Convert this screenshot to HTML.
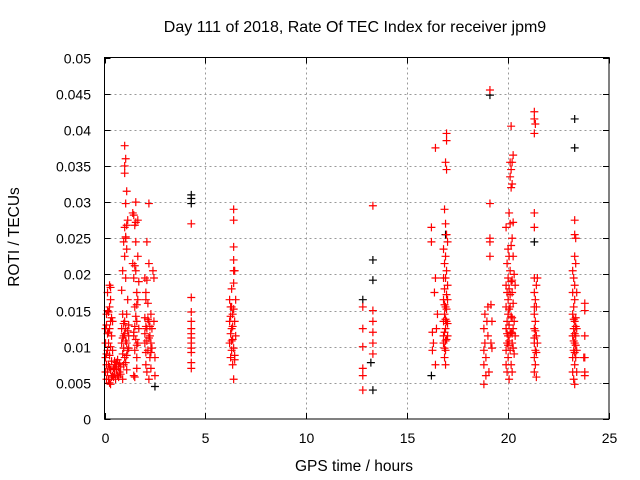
<!DOCTYPE html>
<html><head><meta charset="utf-8"><style>
body{margin:0;background:#fff;}
svg{display:block;font-family:"Liberation Sans",sans-serif;}
</style></head><body>
<svg id="chart" width="640" height="480">
<text x="355" y="32" font-size="16" text-anchor="middle">Day 111 of 2018, Rate Of TEC Index for receiver jpm9</text>
<text x="354" y="471" font-size="15.5" text-anchor="middle">GPS time / hours</text>
<text transform="translate(19,237) rotate(-90)" font-size="15.5" text-anchor="middle">ROTI / TECUs</text>
<g id="grid"></g><g id="ticks"></g><g id="marks"></g>
<rect x="104.5" y="57.5" width="504.5" height="361.5" fill="none" stroke="#000" stroke-width="1"/>
</svg>
<script>
const xTicks=[0,5,10,15,20,25];
const yTicks=[0,0.005,0.01,0.015,0.02,0.025,0.03,0.035,0.04,0.045,0.05];
const yTickLabels=["0","0.005","0.01","0.015","0.02","0.025","0.03","0.035","0.04","0.045","0.05"];
const blackPoints=[[4.3,0.031],[4.3,0.0305],[4.3,0.0298],[13.3,0.022],[13.3,0.0192],[12.8,0.0165],[13.3,0.004],[23.3,0.0415],[23.3,0.0375],[19.1,0.0448],[16.2,0.006],[2.5,0.0045],[21.3,0.0245],[13.2,0.0078],[16.9,0.0255]];
const redPoints=[
[0.05,0.0105],[0.1,0.013],[0.1,0.009],[0.15,0.0065],[0.15,0.015],[0.2,0.0055],[0.2,0.0075],[0.2,0.012],[0.25,0.0185],[0.25,0.005],[0.3,0.0165],[0.3,0.01],[0.3,0.0068],[0.35,0.014],[0.35,0.008],[0.35,0.0115],[0.4,0.006],[0.4,0.0095],[0.15,0.0175],[0.05,0.0085],[0.25,0.0125],[0.1,0.0145],[0.3,0.0048],[0.2,0.0105],[0.4,0.0135],
[0.05,0.0065],[0.1,0.0055],[0.15,0.0095],[0.15,0.0118],[0.2,0.0148],[0.25,0.0088],[0.25,0.0072],[0.3,0.0135],[0.35,0.0058],[0.1,0.0075],[0.05,0.0125],[0.3,0.0182],[0.25,0.0155],
[0.45,0.007],[0.5,0.0062],[0.55,0.0075],[0.6,0.0068],[0.65,0.006],[0.7,0.0072],[0.75,0.0065],[0.5,0.008],[0.6,0.0078],[0.7,0.0058],[0.55,0.0055],[0.65,0.0082],[0.75,0.0077],[0.45,0.0058],[0.8,0.0062],[0.8,0.0072],[0.5,0.0069],
[0.85,0.0105],[0.85,0.0125],[0.9,0.009],[0.9,0.0145],[0.9,0.0205],[0.95,0.0115],[0.95,0.0075],[0.95,0.0245],[1.0,0.0378],[1.0,0.035],[1.0,0.034],[1.0,0.0265],[1.0,0.0085],[1.05,0.036],[1.05,0.0298],[1.05,0.025],[1.05,0.0195],[1.05,0.0125],[1.1,0.0315],[1.1,0.0235],[1.1,0.0105],[1.1,0.0068],[1.15,0.0275],[1.15,0.0165],[1.15,0.0095],[1.2,0.013],[1.2,0.0115],[0.85,0.0178],[0.9,0.0055],[1.0,0.0225],[1.1,0.0145],
[0.9,0.0112],[0.95,0.0098],[1.0,0.0118],[1.0,0.0135],[1.05,0.0108],[1.1,0.0088],[1.15,0.0122],[1.2,0.0098],[0.95,0.0132],[1.05,0.0078],[1.05,0.0252],[1.1,0.0268],
[1.4,0.0285],[1.4,0.0215],[1.45,0.0195],[1.45,0.012],[1.45,0.006],[1.5,0.0268],[1.5,0.0155],[1.5,0.0095],[1.55,0.03],[1.55,0.0245],[1.55,0.0205],[1.55,0.011],[1.6,0.0175],[1.6,0.0135],[1.6,0.0085],[1.6,0.007],[1.65,0.0225],[1.65,0.0165],[1.65,0.0105],[1.7,0.019],[1.7,0.0125],[1.5,0.0058],[1.65,0.0275],
[1.45,0.0115],[1.5,0.0128],[1.55,0.0142],[1.6,0.0102],[1.5,0.0212],[1.45,0.0282],[1.55,0.0272],[1.6,0.0158],
[2.0,0.0195],[2.0,0.014],[2.0,0.0105],[2.05,0.0175],[2.05,0.0075],[2.1,0.0245],[2.1,0.0125],[2.1,0.0065],[2.15,0.016],[2.15,0.0095],[2.2,0.0298],[2.2,0.0215],[2.2,0.0135],[2.2,0.0055],[2.25,0.0115],[2.25,0.0085],[2.3,0.0145],[2.3,0.007],[2.35,0.0125],[2.35,0.0098],[2.4,0.0205],[2.45,0.0195],[2.45,0.0135],[2.5,0.0085],[2.5,0.006],[2.05,0.0165],[2.3,0.0105],
[2.0,0.0118],[2.05,0.0128],[2.1,0.0108],[2.15,0.0138],[2.2,0.0112],[2.25,0.0128],[2.3,0.0092],[2.05,0.0092],[2.1,0.0192],
[4.3,0.0168],[4.3,0.0148],[4.3,0.0135],[4.3,0.0118],[4.3,0.0105],[4.3,0.0098],[4.3,0.0092],[4.3,0.0078],[4.3,0.007],[4.3,0.027],[4.3,0.0112],[4.3,0.0125],
[6.2,0.0165],[6.2,0.0135],[6.2,0.0105],[6.25,0.0155],[6.25,0.0085],[6.3,0.018],[6.3,0.0125],[6.3,0.0095],[6.35,0.0145],[6.35,0.011],[6.35,0.0075],[6.4,0.029],[6.4,0.0275],[6.4,0.0238],[6.4,0.022],[6.4,0.0205],[6.4,0.0188],[6.4,0.0055],[6.45,0.0205],[6.45,0.0135],[6.45,0.0088],[6.5,0.0115],[6.5,0.0165],[6.3,0.0155],
[6.25,0.0118],[6.3,0.0108],[6.35,0.0128],[6.4,0.0098],[6.25,0.0142],[6.4,0.0152],[6.45,0.0082],
[12.8,0.0155],[12.8,0.0125],[12.8,0.01],[12.8,0.007],[12.8,0.006],[12.8,0.004],[13.3,0.0295],[13.3,0.015],[13.3,0.0135],[13.3,0.012],[13.3,0.0105],[13.3,0.009],
[16.2,0.0265],[16.2,0.0245],[16.25,0.012],[16.25,0.0095],[16.3,0.0105],[16.35,0.0175],[16.4,0.0375],[16.4,0.0195],[16.4,0.0075],[16.45,0.0125],[16.5,0.0145],
[16.8,0.0235],[16.8,0.0195],[16.8,0.0165],[16.8,0.0135],[16.8,0.0105],[16.85,0.029],[16.85,0.0215],[16.85,0.018],[16.85,0.0145],[16.85,0.012],[16.85,0.0085],[16.9,0.0355],[16.9,0.027],[16.9,0.0225],[16.9,0.0155],[16.9,0.0125],[16.9,0.0095],[16.9,0.0075],[16.95,0.0395],[16.95,0.0385],[16.95,0.0345],[16.95,0.0255],[16.95,0.0205],[16.95,0.0135],[16.95,0.011],[17.0,0.0185],[17.0,0.0165],[17.0,0.0115],[17.0,0.0245],[16.8,0.0115],
[16.85,0.0098],[16.9,0.0108],[16.95,0.0152],[17.0,0.0132],[16.85,0.0158],[16.9,0.0195],[16.95,0.0172],[16.9,0.0138],
[18.8,0.0125],[18.8,0.0095],[18.8,0.0075],[18.8,0.0048],[18.85,0.0145],[18.85,0.0105],[18.9,0.0085],[18.9,0.006],[18.95,0.0135],[19.0,0.0155],[19.0,0.0115],[19.05,0.0065],[19.1,0.0455],[19.1,0.0298],[19.1,0.025],[19.1,0.0245],[19.1,0.0225],[19.15,0.0158],[19.15,0.0105],[19.2,0.0098],[19.2,0.0135],
[19.9,0.0265],[19.9,0.0185],[19.9,0.0155],[19.9,0.0125],[19.9,0.0095],[19.9,0.0075],[19.95,0.0215],[19.95,0.0175],[19.95,0.0135],[19.95,0.0105],[19.95,0.0065],[20.0,0.0195],[20.0,0.0165],[20.0,0.0145],[20.0,0.0115],[20.0,0.0085],[20.05,0.0285],[20.05,0.0225],[20.05,0.018],[20.05,0.013],[20.05,0.0055],[20.1,0.0355],[20.1,0.0335],[20.1,0.027],[20.1,0.0205],[20.1,0.0155],[20.1,0.0095],[20.15,0.0405],[20.15,0.0345],[20.15,0.032],[20.15,0.024],[20.15,0.019],[20.15,0.012],[20.15,0.0075],[20.2,0.0355],[20.2,0.0325],[20.2,0.025],[20.2,0.0175],[20.2,0.014],[20.2,0.0105],[20.2,0.0065],[20.25,0.0365],[20.25,0.0225],[20.25,0.016],[20.25,0.0125],[20.3,0.02],[20.3,0.0135],[20.3,0.009],[20.35,0.0185],[20.35,0.0115],
[19.95,0.0118],[20.0,0.0102],[20.05,0.0108],[20.1,0.0118],[20.15,0.0142],[20.2,0.0118],[20.25,0.0098],[20.05,0.0152],[20.1,0.0172],[20.2,0.0192],[20.0,0.0235],[20.25,0.0272],
[21.3,0.0425],[21.3,0.0415],[21.3,0.0395],[21.3,0.0285],[21.3,0.0265],[21.3,0.0195],[21.3,0.0175],[21.3,0.0145],[21.3,0.0125],[21.3,0.0105],[21.3,0.0085],[21.3,0.0065],[21.35,0.0408],[21.35,0.0165],[21.35,0.0135],[21.35,0.0095],[21.35,0.0075],[21.4,0.0185],[21.4,0.0155],[21.4,0.0115],[21.4,0.0058],[21.45,0.0195],[21.45,0.0105],
[21.3,0.0112],[21.35,0.0122],[21.4,0.0092],[21.3,0.0155],
[23.2,0.0205],[23.2,0.0175],[23.2,0.0145],[23.2,0.0115],[23.2,0.0085],[23.2,0.0065],[23.25,0.0195],[23.25,0.0155],[23.25,0.0125],[23.25,0.0095],[23.25,0.0055],[23.3,0.0275],[23.3,0.0255],[23.3,0.0225],[23.3,0.0185],[23.3,0.0165],[23.3,0.0135],[23.3,0.0105],[23.3,0.0075],[23.3,0.0048],[23.35,0.025],[23.35,0.0215],[23.35,0.014],[23.35,0.0115],[23.35,0.0085],[23.4,0.0175],[23.4,0.0125],[23.4,0.0095],[23.4,0.0065],[23.8,0.016],[23.8,0.015],[23.8,0.0115],[23.8,0.0085],[23.75,0.0085],[23.8,0.0065],[23.8,0.006],
[23.25,0.0108],[23.3,0.0118],[23.35,0.0128],[23.3,0.0092],[23.25,0.0138],[23.35,0.0102]
];
const X0=104.5,X1=609,Y0=419,Y1=57.5;
function sx(v){return X0+(v-0)/(25-0)*(X1-X0);}
function sy(v){return Y0-(v-0)/(0.05-0)*(Y0-Y1);}
const NS="http://www.w3.org/2000/svg";
const grid=document.getElementById('grid'),ticks=document.getElementById('ticks'),marks=document.getElementById('marks');
function mk(tag,attrs,parent){const e=document.createElementNS(NS,tag);for(const k in attrs)e.setAttribute(k,attrs[k]);parent.appendChild(e);return e;}
xTicks.forEach(function(t){
  const x=Math.round(sx(t))+0.5;
  if(t>0&&t<25){const g=mk('line',{x1:x,x2:x,y1:Y1,y2:Y0,stroke:'#999','stroke-dasharray':'2,3'},grid);
  
  }
  mk('line',{x1:x,x2:x,y1:Y0,y2:Y0-6,stroke:'#000'},ticks);
  mk('line',{x1:x,x2:x,y1:Y1,y2:Y1+6,stroke:'#000'},ticks);
  const l=mk('text',{x:x,y:443,'font-size':14,'text-anchor':'middle'},ticks);l.textContent=t;
  
  
});
yTicks.forEach(function(t,i){
  const y=Math.round(sy(t))+0.5;
  if(i>0&&i<yTicks.length-1){const g=mk('line',{x1:X0,x2:X1,y1:y,y2:y,stroke:'#999','stroke-dasharray':'2,3'},grid);
  
  }
  mk('line',{x1:X0,x2:X0+6,y1:y,y2:y,stroke:'#000'},ticks);
  mk('line',{x1:X1,x2:X1-6,y1:y,y2:y,stroke:'#000'},ticks);
  const l=mk('text',{x:91,y:y+5,'font-size':14,'text-anchor':'end'},ticks);l.textContent=yTickLabels[i];
  
  
});
function plus(p,color,name){
  const x=sx(p[0]),y=sy(p[1]);
  const e=mk('path',{d:'M'+(x-4)+' '+y+'H'+(x+4)+'M'+x+' '+(y-4)+'V'+(y+4),stroke:color,'stroke-width':1.2,fill:'none'},marks);
  
  
}
blackPoints.forEach(function(p){plus(p,'#000','roti-point-black');});
redPoints.forEach(function(p){plus(p,'#f00','roti-point-red');});
</script>
</body></html>
